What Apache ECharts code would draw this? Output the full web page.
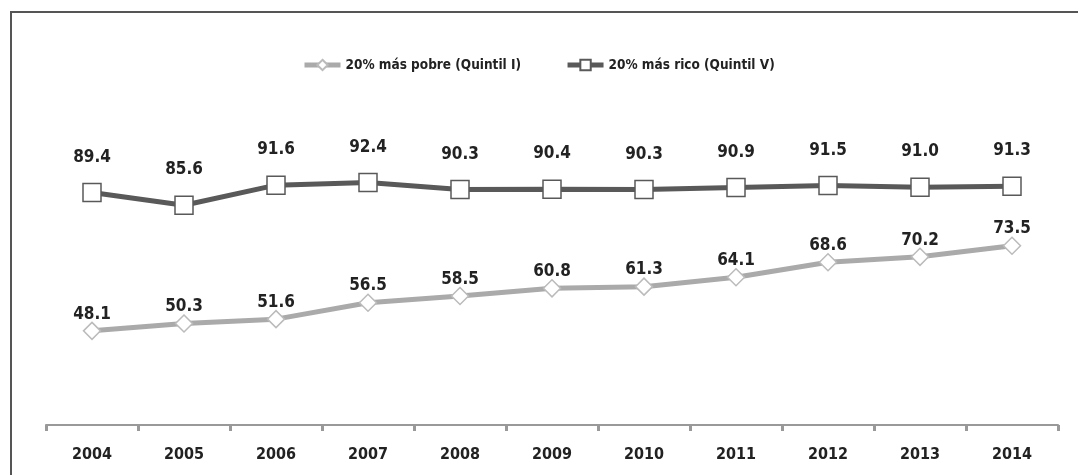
<!DOCTYPE html>
<html><head><meta charset="utf-8">
<script src="https://cdn.jsdelivr.net/npm/echarts@6/dist/echarts.min.js"></script>
<style>html,body{margin:0;padding:0;background:#fff}#c{width:1078px;height:475px}</style>
</head><body><div id="c"></div>
<script>
const years = ['2004','2005','2006','2007','2008','2009','2010','2011','2012','2013','2014'];
const poorest = [48.1,50.3,51.6,56.5,58.5,60.8,61.3,64.1,68.6,70.2,73.5];
const richest = [89.4,85.6,91.6,92.4,90.3,90.4,90.3,90.9,91.5,91.0,91.3];
const seriesNames = ['20% más pobre (Quintil I)','20% más rico (Quintil V)'];

const FONT = '"DejaVu Sans Condensed","Liberation Sans Narrow","Liberation Sans",Arial,sans-serif';
const chart = echarts.init(document.getElementById('c'), null, {renderer:'canvas'});
chart.setOption({
  animation:false,
  backgroundColor:'#fff',
  graphic:[{type:'rect', shape:{x:11,y:12,width:1200,height:600}, style:{fill:'none', stroke:'#555', lineWidth:2}, silent:true}],
  legend:{
    top:53, left:297, itemWidth:36, itemHeight:13, itemGap:44,
    textStyle:{fontFamily:FONT, fontWeight:'bold', fontSize:13.5, color:'#222'},
    data:[
      {name:seriesNames[0], lineStyle:{width:5, color:'#aaaaaa'}},
      {name:seriesNames[1], lineStyle:{width:5, color:'#595959'}}
    ]
  },
  grid:{left:46, right:20, top:157, bottom:50},
  xAxis:{
    type:'category', data:years, boundaryGap:true,
    axisLine:{lineStyle:{color:'#999', width:2}},
    axisTick:{show:true, length:6, lineStyle:{color:'#999', width:3}},
    axisLabel:{fontFamily:FONT, fontWeight:'bold', fontSize:16, color:'#222', margin:22}
  },
  yAxis:{type:'value', min:20, max:100, show:false, splitLine:{show:false}},
  series:[
    {name:seriesNames[0], type:'line', data:poorest,
     symbol:'diamond', symbolSize:17,
     lineStyle:{color:'#aaaaaa', width:5},
     itemStyle:{color:'#fff', borderColor:'#bbbbbb', borderWidth:1.5},
     label:{show:true, position:'top', distance:-1, fontFamily:FONT, fontWeight:'bold', fontSize:17, color:'#222', formatter:p=>p.value.toFixed(1)}},
    {name:seriesNames[1], type:'line', data:richest,
     symbol:'rect', symbolSize:18,
     lineStyle:{color:'#595959', width:5},
     itemStyle:{color:'#fff', borderColor:'#595959', borderWidth:1.5},
     label:{show:true, position:'top', distance:17, fontFamily:FONT, fontWeight:'bold', fontSize:17, color:'#222', formatter:p=>p.value.toFixed(1)}}
  ]
});
</script></body></html>
